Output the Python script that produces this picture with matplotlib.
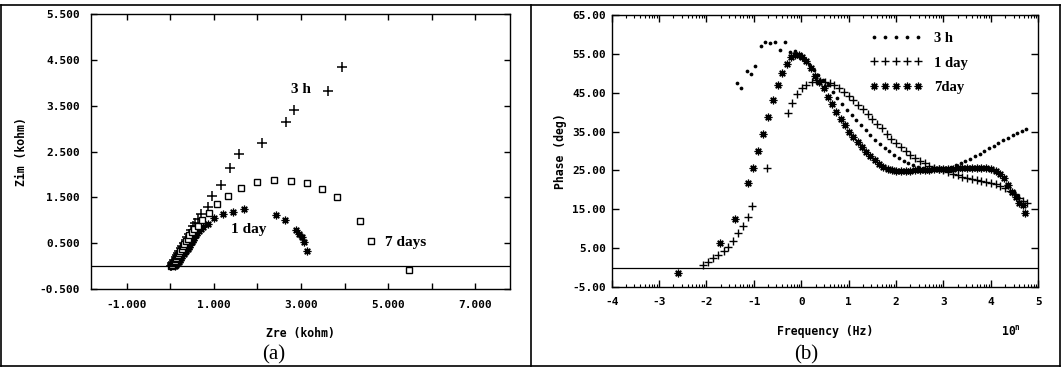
import matplotlib
matplotlib.use("Agg")
import matplotlib.pyplot as plt
from matplotlib.lines import Line2D
from matplotlib.ticker import FuncFormatter
import numpy as np

# ---- (a) Nyquist data, kohm ----
zre_3h = [0.01, 0.03, 0.05, 0.07, 0.09, 0.12, 0.15, 0.18, 0.21, 0.24, 0.27, 0.31, 0.35, 0.39,
          0.43, 0.47, 0.52, 0.57, 0.63, 0.71, 0.86, 0.95, 1.16, 1.36, 1.57, 2.10, 2.65, 2.84,
          3.63, 3.95]
zim_3h = [0.00, 0.03, 0.07, 0.10, 0.14, 0.19, 0.24, 0.29, 0.34, 0.39, 0.44, 0.51, 0.58, 0.64,
          0.71, 0.78, 0.87, 0.95, 1.03, 1.14, 1.30, 1.54, 1.77, 2.15, 2.44, 2.68, 3.15, 3.41,
          3.83, 4.34]

zre_1d = [0.10, 0.13, 0.16, 0.19, 0.22, 0.25, 0.28, 0.31, 0.34, 0.37, 0.40, 0.43, 0.46, 0.49,
          0.52, 0.55, 0.58, 0.62, 0.66, 0.71, 0.76, 0.86, 1.01, 1.21, 1.44, 1.70, 2.43, 2.63,
          2.89, 2.95, 3.02, 3.08, 3.13]
zim_1d = [0.00, 0.03, 0.06, 0.10, 0.14, 0.18, 0.22, 0.26, 0.30, 0.34, 0.38, 0.42, 0.47, 0.52,
          0.57, 0.62, 0.67, 0.72, 0.77, 0.81, 0.86, 0.92, 1.04, 1.14, 1.19, 1.25, 1.12, 1.01,
          0.78, 0.70, 0.63, 0.52, 0.32]

zre_7d = [0.02, 0.04, 0.06, 0.08, 0.10, 0.12, 0.14, 0.16, 0.18, 0.20, 0.23, 0.26, 0.29, 0.32,
          0.36, 0.40, 0.44, 0.49, 0.54, 0.63, 0.72, 0.88, 1.07, 1.32, 1.63, 1.98, 2.37, 2.76,
          3.15, 3.49, 3.82, 4.35, 4.60, 5.49]
zim_7d = [0.00, 0.03, 0.06, 0.09, 0.12, 0.15, 0.18, 0.21, 0.25, 0.29, 0.33, 0.38, 0.43, 0.48,
          0.54, 0.60, 0.67, 0.74, 0.80, 0.88, 1.00, 1.15, 1.36, 1.54, 1.70, 1.84, 1.88, 1.86,
          1.81, 1.68, 1.51, 0.99, 0.54, -0.09]

# ---- (b) Bode phase data, log10(f) vs deg ----
logf_3h = [-1.36, -1.27, -1.15, -1.06, -0.97, -0.86, -0.76, -0.65, -0.55, -0.45, -0.34, -0.24,
           -0.14, -0.04, 0.06, 0.16, 0.26, 0.36, 0.46, 0.56, 0.66, 0.76, 0.86, 0.96, 1.06, 1.16,
           1.26, 1.36, 1.46, 1.56, 1.66, 1.76, 1.86, 1.96, 2.06, 2.16, 2.26, 2.36, 2.46, 2.56,
           2.66, 2.76, 2.86, 2.96, 3.06, 3.16, 3.26, 3.36, 3.46, 3.56, 3.66, 3.76, 3.86, 3.96,
           4.06, 4.16, 4.26, 4.36, 4.46, 4.56, 4.66, 4.74]
phase_3h = [47.6, 46.3, 50.5, 49.7, 52.0, 57.1, 58.1, 57.8, 58.1, 56.1, 58.0, 55.4, 55.8, 54.8,
            53.6, 52.3, 50.9, 49.5, 48.2, 46.9, 45.3, 43.6, 42.0, 40.6, 39.3, 38.0, 36.7, 35.4,
            34.1, 32.9, 31.8, 30.8, 29.9, 29.0, 28.2, 27.5, 26.8, 26.3, 25.9, 25.6, 25.4, 25.3,
            25.3, 25.4, 25.6, 25.9, 26.3, 26.8, 27.4, 28.0, 28.6, 29.3, 30.0, 30.7, 31.4, 32.1,
            32.8, 33.4, 34.0, 34.6, 35.1, 35.6]

logf_1d = [-2.07, -1.96, -1.86, -1.75, -1.64, -1.54, -1.43, -1.33, -1.22, -1.12, -1.03, -0.72,
           -0.29, -0.20, -0.10, 0.01, 0.11, 0.22, 0.31, 0.40, 0.50, 0.60, 0.70, 0.80, 0.90, 1.00,
           1.10, 1.20, 1.30, 1.40, 1.50, 1.60, 1.70, 1.80, 1.90, 2.00, 2.10, 2.20, 2.30, 2.40,
           2.50, 2.60, 2.70, 2.80, 2.90, 3.00, 3.10, 3.20, 3.30, 3.40, 3.50, 3.60, 3.70, 3.80,
           3.90, 4.00, 4.10, 4.20, 4.30, 4.40, 4.50, 4.60, 4.68, 4.76]
phase_1d = [0.7, 1.5, 2.4, 3.2, 4.3, 5.4, 6.9, 8.8, 10.7, 12.9, 15.9, 25.5, 39.9, 42.4, 44.6,
            46.1, 47.0, 47.8, 48.2, 48.0, 47.8, 47.4, 46.9, 46.1, 45.2, 44.2, 43.1, 41.9, 40.7,
            39.5, 38.3, 37.0, 35.8, 34.5, 33.2, 32.0, 30.9, 29.9, 29.0, 28.2, 27.4, 26.8, 26.2,
            25.7, 25.3, 25.0, 24.6, 24.2, 23.8, 23.4, 23.1, 22.8, 22.5, 22.3, 22.1, 21.8, 21.5,
            21.1, 20.5, 19.8, 19.0, 18.0, 17.2, 16.6]

logf_7d = [-2.61, -1.71, -1.40, -1.12, -1.01, -0.91, -0.81, -0.71, -0.60, -0.50, -0.40, -0.31,
           -0.22, -0.13, -0.05, 0.02, 0.10, 0.20, 0.29, 0.38, 0.47, 0.56, 0.65, 0.74, 0.83, 0.92,
           1.01, 1.10, 1.19, 1.28, 1.37, 1.46, 1.55, 1.64, 1.73, 1.82, 1.91, 2.00, 2.10, 2.20,
           2.30, 2.40, 2.50, 2.60, 2.70, 2.80, 2.90, 3.00, 3.10, 3.20, 3.30, 3.40, 3.50, 3.60,
           3.70, 3.80, 3.90, 4.00, 4.10, 4.20, 4.28, 4.36, 4.44, 4.52, 4.60, 4.67, 4.72]
phase_7d = [-1.3, 6.2, 12.5, 21.7, 25.7, 30.0, 34.5, 38.8, 43.1, 47.0, 50.1, 52.5, 54.1, 54.7,
            54.6, 54.2, 53.1, 51.4, 49.4, 47.7, 46.2, 44.0, 42.0, 40.0, 38.3, 36.6, 35.0, 33.6,
            32.3, 31.0, 29.8, 28.6, 27.6, 26.7, 26.0, 25.4, 25.0, 24.8, 24.8, 24.8, 24.9, 25.0,
            25.1, 25.2, 25.2, 25.3, 25.3, 25.3, 25.3, 25.4, 25.5, 25.6, 25.7, 25.7, 25.7, 25.6,
            25.5, 25.3, 24.9, 24.2, 23.0, 21.2, 19.5, 18.2, 16.5, 16.0, 14.0]

mono = dict(family="DejaVu Sans Mono", weight="bold", size=8.3)
serif_b = dict(family="Liberation Serif", weight="bold", size=11)
star = (8, 2, 0)

fig = plt.figure(figsize=(10.61, 3.72), dpi=100)
ax1 = fig.add_axes([0.0858, 0.2231, 0.3949, 0.7392])
ax2 = fig.add_axes([0.5765, 0.2285, 0.4021, 0.7312])

# panel (a)
ax1.plot(zre_3h, zim_3h, "+", color="black", ms=6.5, mew=1.1)
ax1.plot(zre_1d, zim_1d, ls="none", marker=star, color="black", ms=5.5, mew=0.9)
ax1.plot(zre_7d, zim_7d, "s", mfc="white", mec="black", ms=5, mew=1.0)
ax1.axhline(0, color="black", lw=0.9)
ax1.set_xlim(-1.82, 7.80)
ax1.set_ylim(-0.5, 5.5)
ax1.set_xticks([-1, 1, 3, 5, 7])
ax1.set_xticks([0, 2, 4, 6], minor=True)
ax1.set_yticks([-0.5, 0.5, 1.5, 2.5, 3.5, 4.5, 5.5])
ax1.xaxis.set_major_formatter(FuncFormatter(lambda v, p: "%.3f" % v))
ax1.yaxis.set_major_formatter(FuncFormatter(lambda v, p: "%.3f" % v))
ax1.tick_params(which="both", direction="in", top=True, right=True, length=4, width=1)
ax1.tick_params(axis="y", pad=8)
ax1.tick_params(axis="x", pad=8)
ax1.set_xlabel("Zre (kohm)", fontdict=mono, labelpad=12)
ax1.set_ylabel("Zim (kohm)", fontdict=mono, labelpad=8)
ax1.text(3.0, 3.85, "3 h", ha="center", va="center", **serif_b)
ax1.text(1.8, 0.80, "1 day", ha="center", va="center", **serif_b)
ax1.text(5.4, 0.51, "7 days", ha="center", va="center", **serif_b)

# panel (b)
h3, = ax2.plot(logf_3h, phase_3h, "o", color="black", ms=2.7, mew=0, label="3 h")
h1, = ax2.plot(logf_1d, phase_1d, "+", color="black", ms=5.5, mew=1.0, label="1 day")
h7, = ax2.plot(logf_7d, phase_7d, ls="none", marker=star, color="black", ms=5.5, mew=0.9,
               label="7day")
ax2.axhline(0, color="black", lw=0.9)
ax2.set_xlim(-4, 5)
ax2.set_ylim(-5, 65)
ax2.set_xticks(range(-4, 6))
minor = [k + np.log10(m) for k in range(-4, 5) for m in range(2, 10)]
ax2.set_xticks(minor, minor=True)
ax2.set_yticks(range(-5, 66, 10))
ax2.xaxis.set_major_formatter(FuncFormatter(lambda v, p: "%d" % round(v)))
ax2.yaxis.set_major_formatter(FuncFormatter(lambda v, p: "%.2f" % v))
ax2.tick_params(which="major", direction="in", top=True, right=True, length=5, width=1)
ax2.tick_params(which="minor", direction="in", top=True, right=False, length=2.5, width=0.8)
ax2.tick_params(axis="y", pad=4)
ax2.tick_params(axis="x", pad=7)
ax2.set_xlabel("Frequency (Hz)", fontdict=mono, labelpad=13)
ax2.set_ylabel("Phase (deg)", fontdict=mono, labelpad=4)
ax2.text(0.915, -0.165, "10", transform=ax2.transAxes, ha="left", va="center", **mono)
ax2.text(0.945, -0.148, "n", transform=ax2.transAxes, ha="left", va="center",
         family="DejaVu Sans Mono", weight="bold", size=5.5)
leg = ax2.legend(handles=[h3, h1, h7], loc="upper left", bbox_to_anchor=(0.575, 0.985),
                 numpoints=5, handlelength=3.6, handletextpad=0.8, labelspacing=0.75,
                 frameon=False, prop=dict(family="Liberation Serif", weight="bold", size=10.5))

for ax in (ax1, ax2):
    for lab in ax.get_xticklabels() + ax.get_yticklabels():
        lab.set_fontfamily("DejaVu Sans Mono")
        lab.set_fontweight("bold")
        lab.set_fontsize(8)
    for s in ax.spines.values():
        s.set_linewidth(1.0)

fig.text(274 / 1061, 1 - 355 / 372, "(a)", ha="center", va="center",
         family="Liberation Serif", size=15)
fig.text(806 / 1061, 1 - 355 / 372, "(b)", ha="center", va="center",
         family="Liberation Serif", size=15)

# outer frame and divider
for xs, ys in [([0.001, 0.999], [0.987, 0.987]), ([0.001, 0.999], [0.016, 0.016]),
               ([0.001, 0.001], [0.016, 0.987]), ([0.999, 0.999], [0.016, 0.987]),
               ([0.5005, 0.5005], [0.016, 0.987])]:
    fig.add_artist(Line2D(xs, ys, color="black", lw=1.2, transform=fig.transFigure))

fig.savefig("out.png", dpi=100)
